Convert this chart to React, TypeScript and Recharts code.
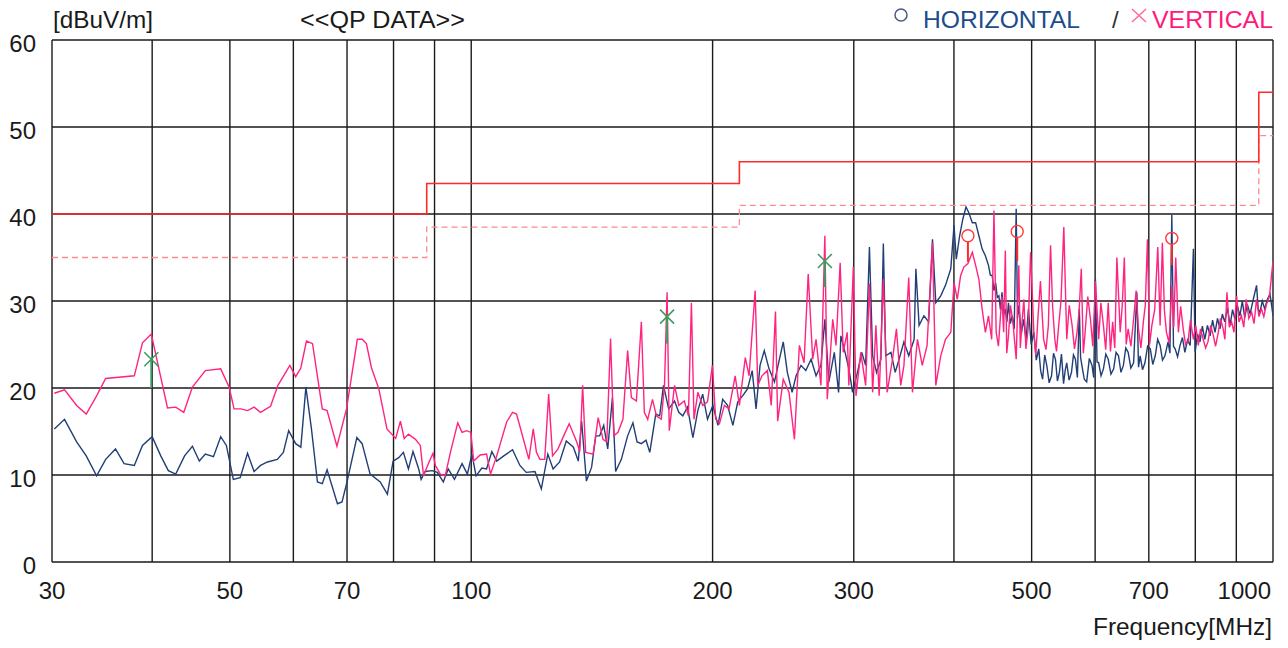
import React from 'react';
import { ComposedChart, Line, XAxis, YAxis, CartesianGrid, ReferenceLine, ReferenceDot } from 'recharts';

// Horizontal polarization trace (MHz, dBuV/m)
const hFreq = [
  30.2,31.1,32.2,33.1,34.1,35.0,36.0,36.9,38.0,38.9,
  40.0,41.0,41.9,42.8,43.9,44.9,45.8,46.6,47.7,48.7,
  49.5,50.5,51.5,52.6,53.6,54.6,55.7,57.3,58.3,59.2,
  60.4,61.3,62.2,63.2,64.3,65.2,66.1,68.1,69.0,70.0,
  72.0,73.1,74.8,77.0,78.6,79.9,81.2,82.3,83.5,84.6,
  86.0,86.6,87.6,89.4,90.7,92.3,93.6,95.3,97.4,98.9,
  100.2,101.4,103.1,104.5,106.1,107.6,109.8,112.6,115.0,117.1,
  120.1,122.3,124.6,126.5,128.9,131.4,134.1,136.0,137.3,139.2,
  141.3,143.0,144.6,146.3,148.0,150.0,151.4,153.9,156.7,159.1,
  161.0,163.0,165.2,167.0,169.9,171.8,173.7,176.3,179.3,181.5,
  183.6,186.1,189.0,191.7,194.4,197.1,200.2,203.1,205.9,208.8,
  212.0,215.0,218.0,221.1,224.1,226.6,229.2,232.0,235.2,238.9,
  242.3,245.0,247.9,251.3,254.2,257.8,261.4,265.4,269.2,273.0,
  276.1,279.3,283.7,287.2,289.1,292.6,295.8,299.0,303.2,307.0,
  310.4,313.8,316.7,320.3,324.3,326.6,328.8,333.8,337.9,341.7,
  346.5,351.3,356.8,358.6,361.9,367.0,372.0,376.1,379.7,385.1,
  390.4,396.4,400.1,402.7,406.6,410.3,414.1,417.2,421.7,425.7,
  429.7,433.7,437.8,441.7,444.0,446.5,448.7,450.9,453.0,455.1,
  457.2,459.2,461.4,463.6,465.7,467.8,470.3,472.9,475.6,478.3,
  480.1,481.9,485.3,488.7,492.0,495.4,499.3,503.2,506.7,510.3,
  513.1,516.0,519.1,522.2,525.8,529.4,532.4,535.4,538.4,541.5,
  544.7,548.0,550.5,553.0,556.8,560.6,563.8,567.0,570.2,573.4,
  575.5,577.6,581.6,585.6,590.1,594.7,597.6,600.5,603.3,606.1,
  610.3,614.5,618.7,623.0,627.9,632.8,637.2,641.7,646.2,650.7,
  655.2,659.7,664.9,670.1,676.4,679.6,682.8,687.5,692.3,697.6,
  703.0,708.0,713.1,718.1,723.1,728.1,733.2,739.8,743.8,747.8,
  751.4,755.0,760.3,765.7,771.0,776.4,782.3,788.3,795.7,799.6,
  805.2,810.8,816.4,822.1,828.4,834.8,840.7,846.7,852.7,858.7,
  864.6,870.6,877.3,884.0,890.3,896.6,903.0,909.3,915.6,921.9,
  929.0,936.2,945.0,953.9,958.5,963.0,969.7,976.4,984.0,991.4,996.0,1000,
];
const hLevel = [
  15.3,16.4,13.8,12.2,9.9,11.8,13.0,11.3,11.1,13.4,
  14.4,12.2,10.5,10.1,12.2,13.3,11.6,12.4,12.1,14.4,
  13.4,9.5,9.7,12.5,10.4,11.1,11.5,11.8,12.6,15.1,
  13.6,13.2,20.1,15.3,9.2,9.0,10.6,6.7,6.9,9.2,
  14.3,13.6,10.1,9.2,7.8,11.6,12.0,12.6,10.7,12.7,
  10.7,9.5,10.4,10.5,10.3,9.2,10.7,9.5,11.3,10.1,
  12.4,9.9,10.8,10.7,12.7,11.6,12.2,12.9,11.1,10.3,
  10.4,8.4,12.4,10.7,11.5,13.9,13.2,11.6,16.2,9.3,
  10.9,14.5,14.5,15.7,13.0,18.9,10.4,11.8,14.5,16.0,
  13.8,13.6,14.0,12.6,17.0,16.8,20.3,17.6,18.5,17.2,
  16.8,17.8,14.3,17.4,19.3,16.4,18.0,15.7,18.7,18.0,
  15.7,18.4,19.1,19.9,22.0,17.6,22.6,24.3,22.2,20.7,
  23.3,25.3,21.8,19.5,21.4,22.6,22.0,23.3,21.4,22.6,
  27.9,20.7,24.1,19.5,26.0,24.1,22.2,19.5,21.8,24.1,
  22.6,36.2,23.7,21.8,23.3,36.6,23.7,24.1,21.8,23.3,
  25.3,23.7,25.6,33.7,27.2,28.3,27.6,37.1,29.8,30.6,
  31.8,33.7,38.7,34.8,37.5,39.4,40.8,40.2,39.0,39.0,
  37.5,36.0,35.2,34.1,33.0,32.9,31.2,32.1,30.4,30.6,
  29.0,31.0,28.4,29.1,27.6,29.8,27.4,28.3,26.8,40.6,
  28.0,29.5,26.2,27.9,25.4,29.1,25.0,26.4,23.2,24.5,
  22.0,21.0,23.8,22.6,20.6,21.4,24.0,23.3,20.8,21.8,
  23.9,20.5,22.0,22.9,20.9,21.8,23.8,23.3,21.2,29.1,
  23.5,22.6,21.0,20.7,23.4,22.6,21.2,32.5,23.0,22.9,
  21.4,22.2,23.9,23.3,21.6,22.2,24.1,23.7,21.8,22.6,
  24.6,24.1,22.3,22.9,31.0,22.4,23.7,22.1,22.9,24.8,
  24.5,22.7,23.7,25.6,24.9,23.2,23.7,25.3,24.0,39.9,
  24.8,24.5,23.6,24.9,25.8,24.1,25.5,24.9,36.0,24.1,
  26.2,25.3,27.1,25.6,27.2,26.0,27.8,26.4,28.0,26.8,
  28.5,27.6,29.2,27.2,29.0,27.9,29.4,28.3,30.0,28.1,
  29.6,28.5,30.2,31.8,29.0,28.7,30.0,29.1,30.2,30.8,29.5,28.3,
];

// Vertical polarization trace (MHz, dBuV/m)
const vFreq = [
  30.2,31.1,32.2,33.1,34.1,35.0,38.0,38.9,39.9,41.8,
  42.8,43.8,44.9,46.6,48.7,49.9,50.6,51.6,52.6,53.6,
  54.6,56.2,57.4,59.4,60.4,61.3,62.3,63.4,65.2,66.1,
  68.0,69.9,72.1,73.1,74.0,75.1,76.7,78.5,80.5,81.6,
  82.5,83.5,85.2,86.4,87.2,88.4,89.6,90.2,91.5,92.8,
  94.2,96.2,97.4,98.7,99.9,100.7,102.6,104.5,105.7,107.6,
  110.7,112.6,113.9,116.1,118.0,119.5,120.6,121.8,123.5,124.9,
  126.3,128.3,130.7,132.5,135.4,136.6,137.7,138.9,141.9,144.0,
  146.0,147.6,149.2,150.6,152.4,154.6,156.7,158.4,160.7,163.0,
  164.4,166.0,168.3,170.2,172.6,174.2,175.5,176.6,179.3,181.5,
  184.4,186.6,188.2,189.6,191.7,194.4,197.1,199.9,201.8,204.0,
  206.9,209.7,213.4,216.0,219.7,222.1,226.0,227.7,230.5,234.1,
  236.7,239.6,241.1,245.0,249.1,253.0,256.6,260.1,263.2,266.6,
  269.2,273.0,276.1,278.0,282.4,285.1,288.5,291.0,294.4,295.8,
  299.6,301.9,306.1,310.4,313.8,316.7,319.7,322.7,326.6,330.2,
  335.3,339.1,343.3,346.5,351.3,355.1,360.2,365.2,370.3,376.1,
  379.7,385.1,390.4,396.4,400.1,403.9,407.7,411.5,416.4,421.7,
  425.7,429.7,433.7,437.8,441.7,445.8,448.7,451.6,454.5,457.2,
  459.0,461.4,463.6,465.5,467.8,470.5,473.8,476.0,478.3,481.9,
  484.0,486.4,489.0,491.8,495.0,498.5,503.2,506.0,509.3,512.8,
  515.0,517.5,521.0,524.6,527.9,531.0,534.4,537.0,540.4,544.0,
  548.4,553.0,557.0,561.6,565.5,569.6,573.0,576.6,580.0,583.0,
  587.5,592.0,596.0,600.5,606.1,610.0,614.5,618.5,623.0,627.0,
  631.0,634.8,638.7,644.8,648.6,652.5,656.0,659.7,664.9,670.1,
  675.0,679.6,684.3,689.1,693.0,697.3,701.7,706.2,712.0,718.3,
  723.1,727.8,732.0,736.4,742.0,747.8,752.0,756.3,762.1,767.0,
  772.7,778.0,783.4,789.0,795.7,801.0,807.0,812.0,818.3,824.0,
  829.6,836.0,842.7,848.0,854.6,860.0,866.6,871.0,876.1,882.0,
  888.0,894.0,900.7,907.0,913.3,919.5,926.0,933.0,940.5,947.0,
  953.9,960.5,967.3,974.0,980.7,990.0,1000,
];
const vLevel = [
  19.4,19.8,18.0,17.0,19.1,21.1,21.4,25.2,26.2,17.7,
  17.8,17.2,20.1,22.0,22.2,20.1,17.6,17.6,17.4,17.8,
  17.2,17.9,20.3,22.6,21.3,22.3,25.4,25.1,17.6,17.4,
  13.3,17.6,25.6,25.6,25.1,22.3,19.9,15.3,14.2,16.2,
  14.2,14.7,14.1,13.4,9.9,11.3,12.5,11.1,10.1,9.9,
  12.6,16.0,14.9,15.1,14.9,11.6,12.3,12.4,10.1,12.2,
  16.1,17.2,17.0,14.2,11.8,15.3,12.6,11.8,11.8,19.3,
  12.2,13.0,14.7,15.9,13.8,12.7,20.3,12.6,12.4,16.6,
  14.1,13.8,25.7,14.5,14.9,16.4,24.3,18.9,18.5,27.6,
  17.2,16.4,18.7,16.8,16.4,20.3,31.0,15.1,20.3,18.0,
  18.5,16.8,29.8,16.4,19.5,18.0,18.4,22.6,16.4,15.9,
  18.0,17.6,21.4,18.0,23.5,21.4,31.2,20.3,21.4,22.0,
  18.0,28.8,16.2,21.0,19.5,14.1,24.9,22.9,33.1,23.3,
  25.6,20.3,37.5,18.7,27.9,24.9,34.4,24.1,26.4,20.3,
  33.9,19.1,24.1,20.3,32.0,19.5,27.2,19.1,32.5,19.5,
  23.3,26.8,20.3,22.6,32.7,19.5,25.6,22.6,24.9,36.7,
  20.3,23.7,25.6,26.4,32.1,30.2,32.9,33.9,34.3,35.6,
  34.1,32.5,29.1,26.4,28.3,25.6,40.4,26.4,24.8,28.3,
  30.5,26.4,35.8,24.0,26.0,29.5,27.6,25.5,23.3,34.1,
  24.6,27.6,30.2,24.5,26.8,35.6,26.4,23.8,28.3,32.3,
  29.0,25.6,24.4,27.2,36.4,29.4,25.6,24.2,27.2,30.0,
  38.5,25.6,29.5,27.2,24.5,26.4,28.8,33.7,24.0,26.4,
  30.5,27.9,24.8,32.3,25.6,29.8,27.2,24.4,29.8,24.2,
  27.6,24.6,35.0,26.4,29.5,35.0,25.0,26.8,24.8,27.9,
  31.2,26.8,24.6,27.6,29.5,37.1,25.0,27.2,29.0,36.2,
  27.2,36.7,29.0,26.4,25.2,31.8,27.0,35.0,26.4,29.4,
  26.8,25.0,25.3,27.8,25.6,27.2,24.9,26.8,25.6,24.6,
  25.3,27.2,26.0,24.8,26.4,28.0,26.8,25.6,31.0,27.0,
  27.6,26.4,30.6,27.6,28.3,27.0,30.2,28.0,28.7,27.4,
  30.2,28.2,29.1,28.2,29.5,30.6,34.6,
];

// Limit lines (stepped)
const limitFreq = [30, 88, 216, 960, 1000];
const limitQP = [40, 43.5, 46, 54, 54];
const limitQPMargin = [35, 38.5, 41, 49, 49];

// Peak markers
const vMarkFreq = [39.9, 175.5, 276.1];
const vMarkLevel = [23.3, 28.2, 34.6];
const vMarkBase = [20.0, 25.1, 31.6];
const hMarkFreq = [416.4, 479.7, 747.8];
const hMarkLevel = [37.5, 38.0, 37.2];
const hMarkBase = [34.5, 34.6, 34.1];

// Axis ticks
const xTicks = [30, 40, 50, 60, 70, 80, 90, 100, 200, 300, 400, 500, 600, 700, 800, 900, 1000];
const xLabels = [30, 50, 70, 100, 200, 300, 500, 700, 1000];
const yTicks = [0, 10, 20, 30, 40, 50, 60];

const hData = hFreq.map((f, i) => ({ f, v: hLevel[i] }));
const vData = vFreq.map((f, i) => ({ f, v: vLevel[i] }));
const qpData = limitFreq.map((f, i) => ({ f, v: limitQP[i] }));
const qpmData = limitFreq.map((f, i) => ({ f, v: limitQPMargin[i] }));

const FONT = '"Liberation Sans", Arial, sans-serif';

const XTick = (props: any) => {
  const { x, y, payload } = props;
  const val = payload.value;
  if (!xLabels.includes(val)) return null;
  const last = val === 1000;
  return (
    <text x={last ? x - 2 : x} y={y + 37} textAnchor={last ? 'end' : 'middle'} fontFamily={FONT} fontSize={24} fill="#1a1a1a">
      {val}
    </text>
  );
};

const YTick = (props: any) => {
  const { x, y, payload } = props;
  return (
    <text x={x - 16} y={y + 12} textAnchor="end" fontFamily={FONT} fontSize={24} fill="#1a1a1a">
      {payload.value}
    </text>
  );
};

const XShape = (props: any) => {
  const { cx, cy } = props;
  const s = 7;
  return (
    <g stroke="#3f9a5e" strokeWidth={1.6}>
      <line x1={cx - s} y1={cy - s} x2={cx + s} y2={cy + s} />
      <line x1={cx - s} y1={cy + s} x2={cx + s} y2={cy - s} />
    </g>
  );
};

const OShape = (props: any) => {
  const { cx, cy } = props;
  return <circle cx={cx} cy={cy} r={6} fill="none" stroke="#ff3a3a" strokeWidth={1.4} />;
};

export default function App() {
  return (
    <div style={{ position: 'absolute', left: 0, top: 0, width: 1288, height: 648, background: '#fff' }}>
      <ComposedChart width={1288} height={648} margin={{ top: 40, right: 15, bottom: 0, left: 0 }}>
        <CartesianGrid stroke="#1a1a1a" strokeWidth={1.4} />
        <XAxis
          dataKey="f"
          type="number"
          scale="log"
          domain={[30, 1000]}
          ticks={xTicks}
          interval={0}
          allowDataOverflow
          axisLine={false}
          tickLine={false}
          tickSize={0}
          tickMargin={0}
          height={86}
          tick={<XTick />}
        />
        <YAxis
          type="number"
          domain={[0, 60]}
          ticks={yTicks}
          interval={0}
          axisLine={false}
          tickLine={false}
          tickSize={0}
          tickMargin={0}
          width={52}
          tick={<YTick />}
        />
        <Line data={qpmData} dataKey="v" type="stepAfter" stroke="#ff8a8a" strokeWidth={1.3} strokeDasharray="6 4" dot={false} isAnimationActive={false} />
        <Line data={qpData} dataKey="v" type="stepAfter" stroke="#ff2a2a" strokeWidth={1.6} dot={false} isAnimationActive={false} />
        <Line data={hData} dataKey="v" type="linear" stroke="#213f76" strokeWidth={1.4} dot={false} isAnimationActive={false} />
        <Line data={vData} dataKey="v" type="linear" stroke="#ff2480" strokeWidth={1.4} dot={false} isAnimationActive={false} />
        {vMarkFreq.map((f, i) => (
          <ReferenceLine key={'vs' + i} segment={[{ x: f, y: vMarkLevel[i] }, { x: f, y: vMarkBase[i] }]} stroke="#3f9a5e" strokeWidth={2} />
        ))}
        {hMarkFreq.map((f, i) => (
          <ReferenceLine key={'hs' + i} segment={[{ x: f, y: hMarkLevel[i] - 0.7 }, { x: f, y: hMarkBase[i] }]} stroke="#ff2a2a" strokeWidth={2} />
        ))}
        {vMarkFreq.map((f, i) => (
          <ReferenceDot key={'vd' + i} x={f} y={vMarkLevel[i]} r={7} shape={<XShape />} />
        ))}
        {hMarkFreq.map((f, i) => (
          <ReferenceDot key={'hd' + i} x={f} y={hMarkLevel[i]} r={6} shape={<OShape />} />
        ))}
      </ComposedChart>
      <svg width={1288} height={648} style={{ position: 'absolute', left: 0, top: 0, pointerEvents: 'none' }} fontFamily={FONT} fontSize={24}>
        <text x={53} y={28} fill="#1a1a1a" textLength={100} lengthAdjust="spacingAndGlyphs">[dBuV/m]</text>
        <text x={300} y={28} fill="#1a1a1a" textLength={165} lengthAdjust="spacingAndGlyphs">&lt;&lt;QP DATA&gt;&gt;</text>
        <circle cx={901} cy={15} r={6} fill="none" stroke="#4a5a80" strokeWidth={1.5} />
        <text x={923} y={28} fill="#1c4c8c" textLength={157} lengthAdjust="spacingAndGlyphs">HORIZONTAL</text>
        <text x={1112} y={28} fill="#333">/</text>
        <g stroke="#ff6a9a" strokeWidth={1.5}>
          <line x1={1132} y1={9} x2={1146} y2={22} />
          <line x1={1132} y1={22} x2={1146} y2={9} />
        </g>
        <text x={1152} y={28} fill="#ff1a7a" textLength={121} lengthAdjust="spacingAndGlyphs">VERTICAL</text>
        <text x={1093} y={635} fill="#1a1a1a" textLength={179} lengthAdjust="spacingAndGlyphs">Frequency[MHz]</text>
      </svg>
    </div>
  );
}
